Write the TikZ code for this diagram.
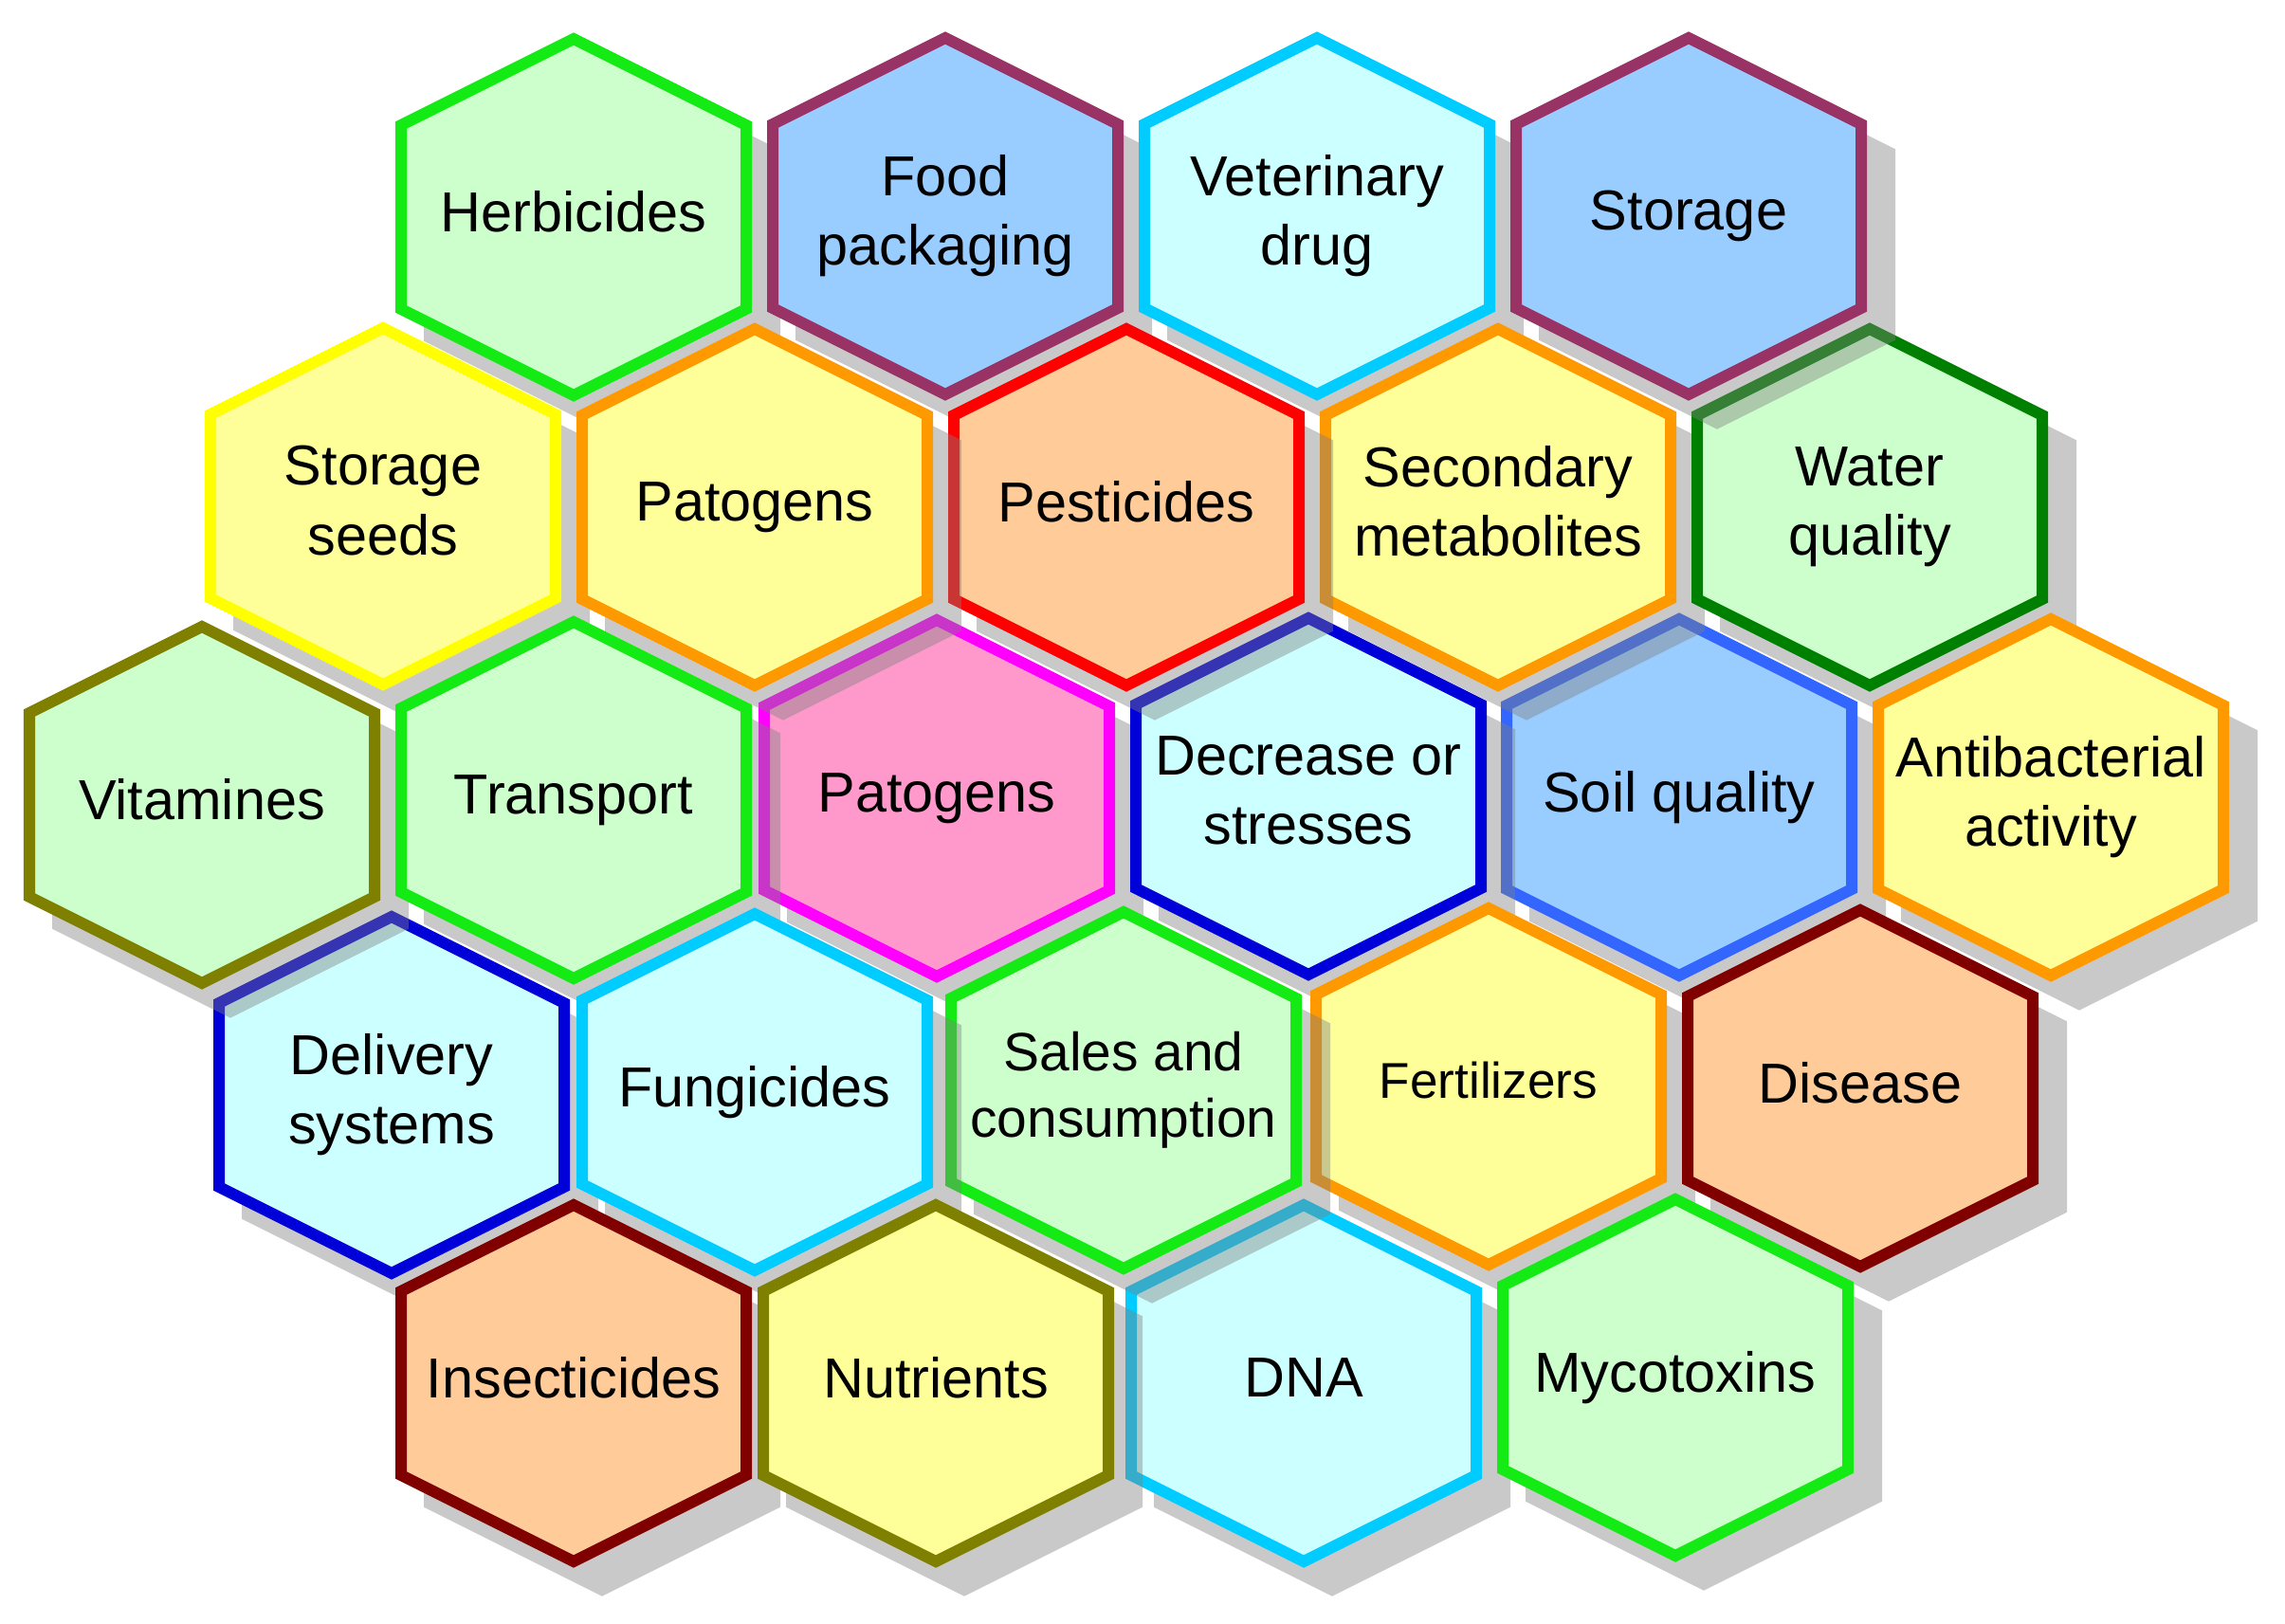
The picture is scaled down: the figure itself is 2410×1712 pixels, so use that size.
\documentclass[tikz,border=0pt]{standalone}
\usepackage{fontspec}
\setmainfont{Liberation Sans}
\definecolor{cLime}{RGB}{20,235,20}
\definecolor{cLGreen}{HTML}{CCFFCC}
\definecolor{cPlum}{HTML}{993366}
\definecolor{cLBlue}{HTML}{99CCFF}
\definecolor{cSky}{HTML}{00CCFF}
\definecolor{cLCyan}{HTML}{CCFFFF}
\definecolor{cYellow}{HTML}{FFFF00}
\definecolor{cLYellow}{HTML}{FFFF99}
\definecolor{cOrange}{HTML}{FF9900}
\definecolor{cRed}{HTML}{FF0000}
\definecolor{cPeach}{HTML}{FFCC99}
\definecolor{cDGreen}{HTML}{008000}
\definecolor{cOlive}{HTML}{808000}
\definecolor{cMagenta}{HTML}{FF00FF}
\definecolor{cPink}{HTML}{FF99CC}
\definecolor{cBlue}{HTML}{0000D8}
\definecolor{cRoyal}{HTML}{3366FF}
\definecolor{cMaroon}{HTML}{800000}
\newcommand\hexfont{\fontsize{16.9}{20.8}\selectfont}
\newcommand\fertfont{\fontsize{15.1}{18.6}\selectfont}
\newcommand\salesfont{\fontsize{16.2}{19.8}\selectfont}
\newcommand\hs{\rule[-3.6pt]{0pt}{12.7pt}}
\tikzset{
  hexshadow/.style={fill=black!50, fill opacity=0.42},
  hexedge/.style={line width=0.12cm, line join=miter},
  hextext/.style={inner sep=0pt, align=center, text=black},
}
\newcommand\hexcell[7]{%
  \begin{scope}[shift={(#2,#3)}]
    \fill[hexshadow] (30,-164.7) -- (218,-70.7) -- (218,130.7) -- (30,224.7) -- (-158,130.7) -- (-158,-70.7) -- cycle;
    \draw[hexedge, draw=#4, fill=#5] (0,-188) -- (182,-97) -- (182,97) -- (0,188) -- (-182,97) -- (-182,-97) -- cycle;
    \node[hextext, font=#6] (#1) at (0,0) {#7};
  \end{scope}}
\begin{document}
\begin{tikzpicture}[x=0.01cm, y=-0.01cm]
\fill[white] (0,0) rectangle (2410,1712);
\useasboundingbox (0,0) rectangle (2410,1712);
% drawing order chosen so that each shadow falls on the same neighbours as in the reference
\hexcell{herb}{605}{229}{cLime}{cLGreen}{\hexfont}{\hs Herbicides}
\hexcell{food}{997}{228}{cPlum}{cLBlue}{\hexfont}{\hs Food\\\hs packaging}
\hexcell{vet}{1389}{228}{cSky}{cLCyan}{\hexfont}{\hs Veterinary\\\hs drug}
\hexcell{soil}{1771}{841}{cRoyal}{cLBlue}{\hexfont}{\hs Soil quality}
\hexcell{second}{1580}{535}{cOrange}{cLYellow}{\hexfont}{\hs Secondary\\\hs metabolites}
\hexcell{water}{1972}{535}{cDGreen}{cLGreen}{\hexfont}{\hs Water\\\hs quality}
\hexcell{storage}{1781}{228}{cPlum}{cLBlue}{\hexfont}{\hs Storage}
\hexcell{antib}{2163}{841}{cOrange}{cLYellow}{\hexfont}{\hs Antibacterial\\\hs activity}
\hexcell{patB}{988}{842}{cMagenta}{cPink}{\hexfont}{\hs Patogens}
\hexcell{decr}{1380}{840}{cBlue}{cLCyan}{\hexfont}{\hs Decrease or\\\hs stresses}
\hexcell{pest}{1188}{535}{cRed}{cPeach}{\hexfont}{\hs Pesticides}
\hexcell{seeds}{404}{534}{cYellow}{cLYellow}{\hexfont}{\hs Storage\\\hs seeds}
\hexcell{patA}{796}{535}{cOrange}{cLYellow}{\hexfont}{\hs Patogens}
\hexcell{deliv}{413}{1155}{cBlue}{cLCyan}{\hexfont}{\hs Delivery\\\hs systems}
\hexcell{vitam}{213}{849}{cOlive}{cLGreen}{\hexfont}{\hs Vitamines}
\hexcell{transp}{605}{844}{cLime}{cLGreen}{\hexfont}{\hs Transport}
\hexcell{fert}{1570}{1146}{cOrange}{cLYellow}{\fertfont}{\hs Fertilizers}
\hexcell{disease}{1962}{1148}{cMaroon}{cPeach}{\hexfont}{\hs Disease}
\hexcell{dna}{1375}{1459}{cSky}{cLCyan}{\hexfont}{\hs DNA}
\hexcell{myco}{1767}{1453}{cLime}{cLGreen}{\hexfont}{\hs Mycotoxins}
\hexcell{sales}{1185}{1150}{cLime}{cLGreen}{\salesfont}{\hs Sales and\\\hs consumption}
\hexcell{fungi}{796}{1152}{cSky}{cLCyan}{\hexfont}{\hs Fungicides}
\hexcell{insect}{605}{1459}{cMaroon}{cPeach}{\hexfont}{\hs Insecticides}
\hexcell{nutr}{987}{1459}{cOlive}{cLYellow}{\hexfont}{\hs Nutrients}
\end{tikzpicture}
\end{document}
